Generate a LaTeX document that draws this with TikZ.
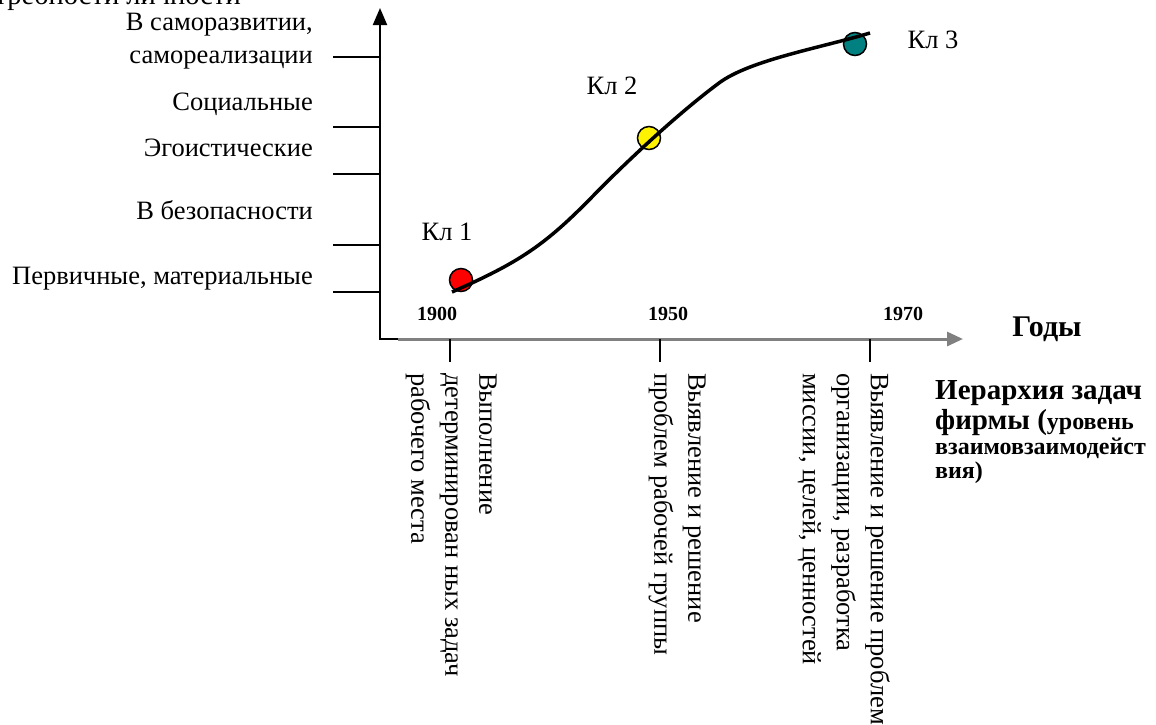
\documentclass[tikz,border=0pt]{standalone}
\usepackage{fontspec}
\setmainfont{Liberation Serif}
\usetikzlibrary{arrows.meta}
\definecolor{kteal}{HTML}{008080}
\begin{document}
\begin{tikzpicture}[x=1pt,y=-1pt,
  lab/.style={font=\fontsize{26.5}{34}\selectfont, inner sep=0pt},
  ylab/.style={lab, anchor=base east},
  klab/.style={lab, anchor=base},
  yr/.style={font=\fontsize{20}{24}\selectfont\bfseries, inner sep=0pt, anchor=base},
  vtext/.style={lab, rotate=-90, anchor=north west, align=left},
  hbig/.style={font=\fontsize{29}{31}\selectfont\bfseries, inner sep=0pt, anchor=base west},
  hsmall/.style={font=\fontsize{24}{26}\selectfont\bfseries, inner sep=0pt, anchor=base west},
  tickline/.style={line width=2pt},
  dot/.style={circle, draw=black, line width=1.5pt, minimum size=23pt, inner sep=0pt}]
\useasboundingbox (0,0) rectangle (1156,724);

% axes
\coordinate (O) at (380,339);
\coordinate (Ytop) at (380,8);
\coordinate (Xb) at (398,339);
\coordinate (Xend) at (963,339);
\draw[line width=2pt, -{Triangle[length=17pt,width=14pt]}] (O) -- (Ytop);
\draw[line width=2pt] ([xshift=-1pt]O) -- (Xb);
\draw[gray, line width=3pt, -{Triangle[length=16pt,width=14pt]}] (Xb) -- (Xend);

% y ticks
\foreach \yy in {57,127,174,245,292}
  \draw[tickline] (333,\yy) -- (380,\yy);
% x ticks
\foreach \xx in {450,660,870}
  \draw[tickline] (\xx,339) -- (\xx,362);

% top title (cut off at the top edge, as in the reference)
\node[font=\fontsize{28.5}{34}\selectfont, inner sep=0pt, anchor=base east] (title) at (241,4) {Потребности личности};

% y labels
\node[ylab] (y1a) at (313,30) {В саморазвитии,};
\node[ylab] (y1b) at (313,63) {самореализации};
\node[ylab] (y2) at (313,110) {Социальные};
\node[ylab] (y3) at (313,156) {Эгоистические};
\node[ylab] (y4) at (313,219) {В безопасности};
\node[ylab] (y5) at (313,284) {Первичные, материальные};

% years
\node[yr] (t1900) at (437,320) {1900};
\node[yr] (t1950) at (668,320) {1950};
\node[yr] (t1970) at (903,320) {1970};
\node[font=\fontsize{30}{33}\selectfont\bfseries, inner sep=0pt, anchor=base] (godi) at (1047,336) {Годы};

% hierarchy caption
\node[hbig] (h1) at (935,399) {Иерархия задач};
\node[hbig] (h2) at (935,429) {фирмы (\fontsize{24}{26}\selectfont уровень};
\node[hsmall] (h3) at (935,454) {взаимовзаимодейст};
\node[hsmall] (h4) at (935,478) {вия)};

% vertical texts
\node[vtext] (v1) at (497,373) {Выполнение\\детерминирован ных задач\\рабочего места};
\node[vtext] (v2) at (706,373) {Выявление и решение\\проблем рабочей группы};
\node[vtext] (v3) at (890,373) {Выявление и решение проблем\\организации, разработка\\миссии, целей, ценностей};

% circles
\node[dot, fill=red] (c1) at (461,280) {};
\node[dot, fill=yellow] (c2) at (649,138) {};
\node[dot, fill=kteal] (c3) at (855,44) {};

% curve
\coordinate (s0) at (452,292);
\coordinate (s1) at (592,197);
\coordinate (s2) at (719,83);
\coordinate (s3) at (870,33);
\draw[line width=3.5pt] (s0) .. controls (520,262) and (545,245) .. (s1)
  .. controls (630,158) and (680,112) .. (s2)
  .. controls (750,60) and (820,48) .. (s3);

% Kl labels
\node[klab] (k1) at (447,240) {Кл 1};
\node[klab] (k2) at (612,94) {Кл 2};
\node[klab] (k3) at (933,48) {Кл 3};
\end{tikzpicture}
\end{document}
